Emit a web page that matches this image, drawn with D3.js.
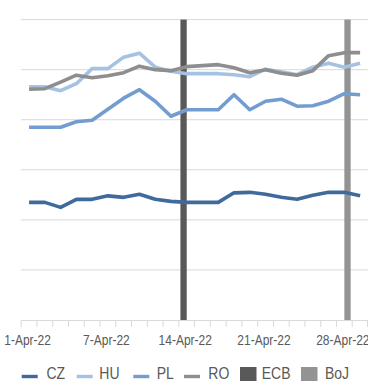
<!DOCTYPE html>
<html>
<head>
<meta charset="utf-8">
<script src="https://cdn.jsdelivr.net/npm/d3@7"></script>
<style>
  html, body { margin: 0; padding: 0; background: #fff; }
  svg { display: block; }
  text { font-family: "Liberation Sans Narrow", "Arial Narrow", "Liberation Sans", sans-serif; fill: #595959; }
</style>
</head>
<body>
<svg id="chart" width="368" height="381"></svg>
<script>
const categories = ["1-Apr-22","2-Apr-22","4-Apr-22","5-Apr-22","6-Apr-22","7-Apr-22","8-Apr-22","11-Apr-22","12-Apr-22","13-Apr-22","14-Apr-22","15-Apr-22","18-Apr-22","19-Apr-22","20-Apr-22","21-Apr-22","22-Apr-22","25-Apr-22","26-Apr-22","27-Apr-22","28-Apr-22","29-Apr-22"];
const tickLabels = ["1-Apr-22","7-Apr-22","14-Apr-22","21-Apr-22","28-Apr-22"];
const CZ = [2.35,2.35,2.25,2.41,2.41,2.48,2.45,2.51,2.41,2.37,2.35,2.35,2.35,2.54,2.55,2.51,2.45,2.41,2.49,2.55,2.55,2.48];
const HU = [4.66,4.66,4.58,4.72,5.02,5.02,5.25,5.33,5.05,4.97,4.92,4.92,4.92,4.90,4.86,5.01,4.96,4.90,5.05,5.13,5.05,5.13];
const PL = [3.85,3.85,3.85,3.96,3.99,4.21,4.43,4.60,4.37,4.07,4.20,4.20,4.20,4.50,4.20,4.37,4.41,4.27,4.28,4.37,4.52,4.50];
const RO = [4.61,4.62,4.75,4.89,4.84,4.88,4.94,5.07,5.00,4.98,5.06,5.08,5.10,5.04,4.94,5.00,4.93,4.89,4.98,5.28,5.34,5.34];
const ECB = [0,0,0,0,0,0,0,0,0,0,6,0,0,0,0,0,0,0,0,0,0,0];
const BoJ = [0,0,0,0,0,0,0,0,0,0,0,0,0,0,0,0,0,0,0,0,6,0];
const yTicks = [1,2,3,4,5,6];

const lineSeries = [
  {name:"CZ", values:CZ, color:"#3F6A9C"},
  {name:"HU", values:HU, color:"#A6C2E3"},
  {name:"PL", values:PL, color:"#739DD0"},
  {name:"RO", values:RO, color:"#8E8E8E"}
];
const barSeries = [
  {name:"ECB", values:ECB, color:"#595959"},
  {name:"BoJ", values:BoJ, color:"#939393"}
];

const svg = d3.select("#chart");
const x = d3.scaleBand().domain(categories).range([21.2, 368]).padding(0);
const xs = d3.scaleBand().domain(barSeries.map(d=>d.name)).range([0, x.bandwidth()]).paddingInner(0).paddingOuter(0.25);
const y = d3.scaleLinear().domain([0, 6]).range([320, 19.6]);

// gridlines
svg.append("g").selectAll("line").data(yTicks).join("line")
  .attr("x1", 21).attr("x2", 368)
  .attr("y1", d=>y(d)).attr("y2", d=>y(d))
  .attr("stroke", "#D9D9D9").attr("stroke-width", 1);

// bars
barSeries.forEach(s => {
  svg.append("g").selectAll("rect").data(s.values.map((v,i)=>({v, c:categories[i]})).filter(d=>d.v>0)).join("rect")
    .attr("x", d=>x(d.c)+xs(s.name))
    .attr("width", xs.bandwidth())
    .attr("y", d=>y(d.v))
    .attr("height", d=>y(0)-y(d.v))
    .attr("fill", s.color);
});

// x axis
const xAxis = d3.axisBottom(x).tickSize(0).tickFormat(d => tickLabels.includes(d) ? d : "");
const gx = svg.append("g").attr("transform", `translate(0,${y(0)})`).call(xAxis);
gx.select(".domain").attr("stroke", "#D9D9D9").attr("stroke-width", 1.2);
gx.selectAll(".tick text")
  .attr("y", 0).attr("dy", 0)
  .attr("transform", "translate(-1.5,25) scale(1,1.15)")
  .style("font-size", "12px").attr("fill", "#595959");
// tick marks between categories
const bounds = categories.map(c=>x(c)).concat([x.range()[1]-0.5]);
gx.append("g").selectAll("line").data(bounds).join("line")
  .attr("x1", d=>d).attr("x2", d=>d).attr("y1", 0).attr("y2", 7)
  .attr("stroke", "#D9D9D9").attr("stroke-width", 1);

// lines
const line = d3.line().x((d,i)=>x(categories[i]) + x.bandwidth()/2).y(d=>y(d));
lineSeries.forEach(s => {
  svg.append("path").datum(s.values)
    .attr("d", line).attr("fill", "none")
    .attr("stroke", s.color).attr("stroke-width", 3.6)
    .attr("stroke-linejoin", "round").attr("stroke-linecap", "butt");
});

// legend
const legendItems = [
  {name:"CZ", type:"line", color:"#3F6A9C", sx:21.7, tx:46.5},
  {name:"HU", type:"line", color:"#A6C2E3", sx:76.7, tx:99.3},
  {name:"PL", type:"line", color:"#739DD0", sx:133.3, tx:156.7},
  {name:"RO", type:"line", color:"#8E8E8E", sx:184, tx:208.3},
  {name:"ECB", type:"box", color:"#595959", sx:240, tx:261.7},
  {name:"BoJ", type:"box", color:"#939393", sx:301, tx:325}
];
const lg = svg.append("g");
legendItems.forEach(it => {
  if (it.type === "line") {
    lg.append("line").attr("x1", it.sx).attr("x2", it.sx+16).attr("y1", 376.5).attr("y2", 376.5)
      .attr("stroke", it.color).attr("stroke-width", 3.4);
  } else {
    lg.append("rect").attr("x", it.sx).attr("y", 367).attr("width", 16.5).attr("height", 14).attr("fill", it.color);
  }
  lg.append("text").attr("transform", `translate(${it.tx},379) scale(1,1.15)`).style("font-size", "14px").text(it.name);
});
</script>
</body>
</html>
